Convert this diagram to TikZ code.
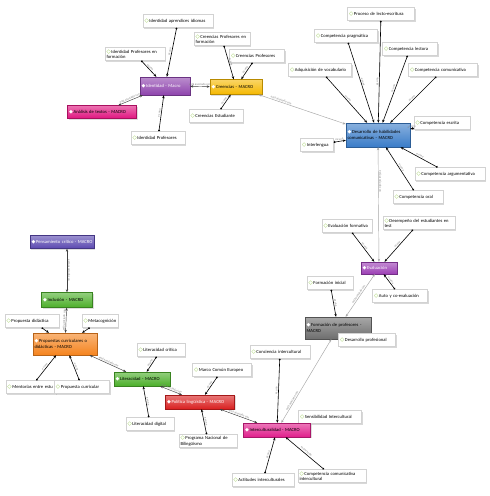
\documentclass[tikz,border=0pt]{standalone}
\usepackage{fontspec}
\setmainfont{Carlito}
\newfontfamily\symfont{DejaVu Sans}
\usepackage{tikz}
\usetikzlibrary{arrows.meta,shadows}

\definecolor{codegreen}{HTML}{8CC63F}
\definecolor{idpurple}{HTML}{8E44AD}
\definecolor{anamagenta}{HTML}{E0157F}
\definecolor{cryellow}{HTML}{F5B800}
\definecolor{desblue}{HTML}{3A7CC8}
\definecolor{evpurple}{HTML}{9C3FB5}
\definecolor{formgray}{HTML}{6E6E6E}
\definecolor{intmagenta}{HTML}{E01F8C}
\definecolor{polred}{HTML}{D92020}
\definecolor{litgreen}{HTML}{4CAF2A}
\definecolor{proporange}{HTML}{F5841F}
\definecolor{pensviolet}{HTML}{5A48B0}

\newcommand{\codetext}[1]{\hangindent=4.5pt\hangafter=1{\symfont\fontsize{5.5}{5}\selectfont\textcolor{codegreen}{◇}}\,#1}
\newcommand{\macrotext}[1]{\hangindent=4.5pt\hangafter=1{\symfont\fontsize{5}{5}\selectfont\textcolor{white}{◆}}\,#1}

\begin{document}
\begin{tikzpicture}[x=1pt,y=-1pt,
  codebox/.style={rectangle, draw=gray!35, fill=white, font=\fontsize{4.6}{5.4}\selectfont,
    inner xsep=1.5pt, inner ysep=1.5pt, align=left, minimum height=13pt,
    drop shadow={shadow xshift=1.2pt, shadow yshift=-1.2pt, fill=gray!60}},
  macrobox/.style={rectangle, draw=#1!75!black, top color=#1!60, bottom color=#1,
    font=\fontsize{4.6}{5.4}\selectfont, inner xsep=1.5pt, inner ysep=1.5pt, align=left,
    minimum height=13pt, drop shadow={shadow xshift=1.2pt, shadow yshift=-1.2pt, fill=gray!50}},
  isa/.style={{Circle[length=1.8pt]}-{Stealth[length=3pt,width=2.4pt]}, line width=.6pt},
  assoc/.style={{Stealth[length=3pt,width=2.4pt]}-{Stealth[length=3pt,width=2.4pt]}, line width=.45pt, draw=black!75},
  farassoc/.style={assoc, draw=gray!70},
  lbl/.style={font=\fontsize{3}{3}\selectfont, text=gray, sloped, above, inner sep=.8pt}]

\fill[white] (0,0) rectangle (490,496);
\useasboundingbox (0,0) rectangle (490,496);

% identidad y creencias
\node[codebox, text width=67pt] (idaprend) at (178,21) {\codetext{Identidad aprendices idiomas}};
\node[codebox, text width=57pt] (idprofform) at (135,54) {\codetext{Identidad Profesores en\\formación}};
\node[codebox, text width=51pt] (idprof) at (158,138) {\codetext{Identidad Profesores}};
\node[macrobox=idpurple, text=white, text width=47pt, minimum height=18pt] (idmacro) at (165,86) {\macrotext{Identidad - Macro}};
\node[macrobox=anamagenta, text width=66pt] (analisis) at (102,112) {\macrotext{Análisis de textos - MACRO}};
\node[codebox, text width=53pt] (crprofform) at (222,39) {\codetext{Creencias Profesores en\\formación}};
\node[codebox, text width=52pt] (crprof) at (257,56) {\codetext{Creencias Profesores}};
\node[codebox, text width=51pt] (crest) at (216,116) {\codetext{Creencias Estudiante}};
\node[macrobox=cryellow, text width=49pt, minimum height=15pt] (crmacro) at (236,87) {\macrotext{Creencias - MACRO}};

% habilidades comunicativas
\node[codebox, text width=64pt] (lecto) at (381,14) {\codetext{Proceso de lecto-escritura}};
\node[codebox, text width=60pt] (pragm) at (346,36) {\codetext{Competencia pragmática}};
\node[codebox, text width=52pt] (lectora) at (410,49) {\codetext{Competencia lectora}};
\node[codebox, text width=60pt] (vocab) at (320,70) {\codetext{Adquisición de vocabulario}};
\node[codebox, text width=66pt] (comunic) at (443,70) {\codetext{Competencia comunicativa}};
\node[codebox, text width=53pt] (escrita) at (442,123) {\codetext{Competencia escrita}};
\node[codebox, text width=30pt] (interl) at (317,145) {\codetext{Interlengua}};
\node[codebox, text width=67pt] (argum) at (450,174) {\codetext{Competencia argumentativa}};
\node[codebox, text width=47pt] (oral) at (418,197) {\codetext{Competencia oral}};
\node[macrobox=desblue, text width=61pt, minimum height=24pt] (desmacro) at (378,135) {\macrotext{Desarrollo de habilidades\\comunicativas - MACRO}};

% evaluacion y formacion
\node[codebox, text width=47pt] (evform) at (347,226) {\codetext{Evaluación formativa}};
\node[codebox, text width=69pt] (desemp) at (419,223) {\codetext{Desempeño del estudiantes en\\test}};
\node[macrobox=evpurple, text=white, text width=33pt, minimum height=12pt] (evmacro) at (379,268) {\macrotext{Evaluación}};
\node[codebox, text width=43pt] (forminic) at (330,283) {\codetext{Formación inicial}};
\node[codebox, text width=52pt] (autoev) at (400,296) {\codetext{Auto y co-evaluación}};
\node[macrobox=formgray, text width=63pt, minimum height=22pt] (formmacro) at (338,328) {\macrotext{Formación de profesores -\\MACRO}};
\node[codebox, text width=54pt] (desprof) at (367,340) {\codetext{Desarrollo profesional}};

% interculturalidad
\node[codebox, text width=57pt] (concint) at (280,352) {\codetext{Conciencia intercultural}};
\node[codebox, text width=60pt] (sensint) at (330,417) {\codetext{Sensibilidad Intercultural}};
\node[macrobox=intmagenta, text width=64pt, minimum height=14pt] (intermacro) at (277,430) {\macrotext{Interculturalidad - MACRO}};
\node[codebox, text width=59pt] (actint) at (263,480) {\codetext{Actitudes interculturales}};
\node[codebox, text width=65pt] (comint) at (332,476) {\codetext{Competencia comunicativa\\intercultural}};

% politica y literacidad
\node[codebox, text width=56pt] (marco) at (222,370) {\codetext{Marco Común Europeo}};
\node[codebox, text width=55pt] (pnb) at (208,441) {\codetext{Programa Nacional de\\Bilingüismo}};
\node[macrobox=polred, text=white, text width=66pt, minimum height=14pt] (polmacro) at (200,402) {\macrotext{Política lingüística - MACRO}};
\node[codebox, text width=45pt] (litcrit) at (161,350) {\codetext{Literacidad crítica}};
\node[codebox, text width=45pt] (litdig) at (150,424) {\codetext{Literacidad digital}};
\node[macrobox=litgreen, text width=53pt, minimum height=14pt] (litmacro) at (142,379) {\macrotext{Literacidad - MACRO}};

% propuestas
\node[macrobox=pensviolet, text=white, text width=61pt, minimum height=13pt] (pensmacro) at (62,242) {\macrotext{Pensamiento crítico - MACRO}};
\node[macrobox=litgreen, text width=48pt, minimum height=15pt] (inclmacro) at (67,300) {\macrotext{Inclusión - MACRO}};
\node[codebox, text width=51pt] (propdid) at (32,321) {\codetext{Propuesta didáctica}};
\node[codebox, text width=33pt] (metacog) at (100,321) {\codetext{Metacognición}};
\node[macrobox=proporange, text width=61pt, minimum height=22pt] (propmacro) at (65,344) {\macrotext{Propuestas curriculares o\\didácticas - MACRO}};
\node[codebox, text width=47pt] (mentor) at (31,387) {\codetext{Mentorías entre estu}};
\node[codebox, text width=52pt] (propcur) at (82,387) {\codetext{Propuesta curricular}};

% relaciones
\draw[isa] (idaprend) -- node[lbl] {es una} (idmacro);
\draw[isa] (idprofform) -- node[lbl] {es una} (idmacro);
\draw[isa] (idprof) -- node[lbl] {es una} (idmacro);
\draw[assoc] (analisis) -- node[lbl] {está asociado con} (idmacro);
\draw[assoc] (idmacro) -- node[lbl] {está asociado con} (crmacro);
\draw[isa] (crprofform) -- node[lbl] {es una} (crmacro);
\draw[isa] (crprof) -- node[lbl] {es una} (crmacro);
\draw[isa] (crest) -- node[lbl] {es una} (crmacro);
\draw[farassoc] (crmacro) -- node[lbl, pos=.25] {está asociado con} (desmacro);

\draw[isa] (lecto) -- node[lbl, pos=.6] {es una} (desmacro);
\draw[isa] (pragm) -- node[lbl] {es una} (desmacro);
\draw[isa] (lectora) -- node[lbl] {es una} (desmacro);
\draw[isa] (vocab) -- node[lbl] {es una} (desmacro);
\draw[isa] (comunic) -- node[lbl] {es una} (desmacro);
\draw[isa] (escrita) -- node[lbl] {es una} (desmacro);
\draw[isa] (interl) -- node[lbl] {es una} (desmacro);
\draw[isa] (argum) -- node[lbl] {es una} (desmacro);
\draw[isa] (oral) -- node[lbl] {es una} (desmacro);
\draw[farassoc] (desmacro) -- node[lbl, pos=.3] {está asociado con} (evmacro);

\draw[isa] (evform) -- node[lbl] {es una} (evmacro);
\draw[isa] (desemp) -- node[lbl] {es una} (evmacro);
\draw[isa] (autoev) -- node[lbl] {es una} (evmacro);
\draw[farassoc] (evmacro) -- node[lbl] {está asociado con} (formmacro);
\draw[isa] (forminic) -- node[lbl] {es una} (formmacro);
\draw[farassoc] (formmacro) -- node[lbl, pos=.75] {está asociado con} (intermacro);

\draw[isa] (concint) -- node[lbl] {es una} (intermacro);
\draw[isa] (actint) -- node[lbl] {es una} (intermacro);
\draw[isa] (comint) -- node[lbl] {es parte de} (intermacro);
\draw[assoc] (polmacro) -- node[lbl] {está asociado con} (intermacro);
\draw[isa] (marco) -- node[lbl] {es una} (polmacro);
\draw[isa] (pnb) -- node[lbl] {es una} (polmacro);
\draw[assoc] (litmacro) -- node[lbl] {está asociado con} (polmacro);
\draw[isa] (litcrit) -- node[lbl] {es una} (litmacro);
\draw[isa] (litdig) -- node[lbl] {es una} (litmacro);
\draw[assoc] (propmacro) -- node[lbl] {está asociado con} (litmacro);

\draw[isa] (propdid) -- (propmacro);
\draw[isa] (metacog) -- (propmacro);
\draw[isa] (mentor) -- node[lbl] {es una} (propmacro);
\draw[isa] (propcur) -- node[lbl] {es una} (propmacro);
\draw[assoc] (inclmacro) -- node[lbl] {está asociado con} (propmacro);
\draw[assoc] (pensmacro.south -| inclmacro) -- node[lbl] {está asociado con} (inclmacro);
\end{tikzpicture}
\end{document}
